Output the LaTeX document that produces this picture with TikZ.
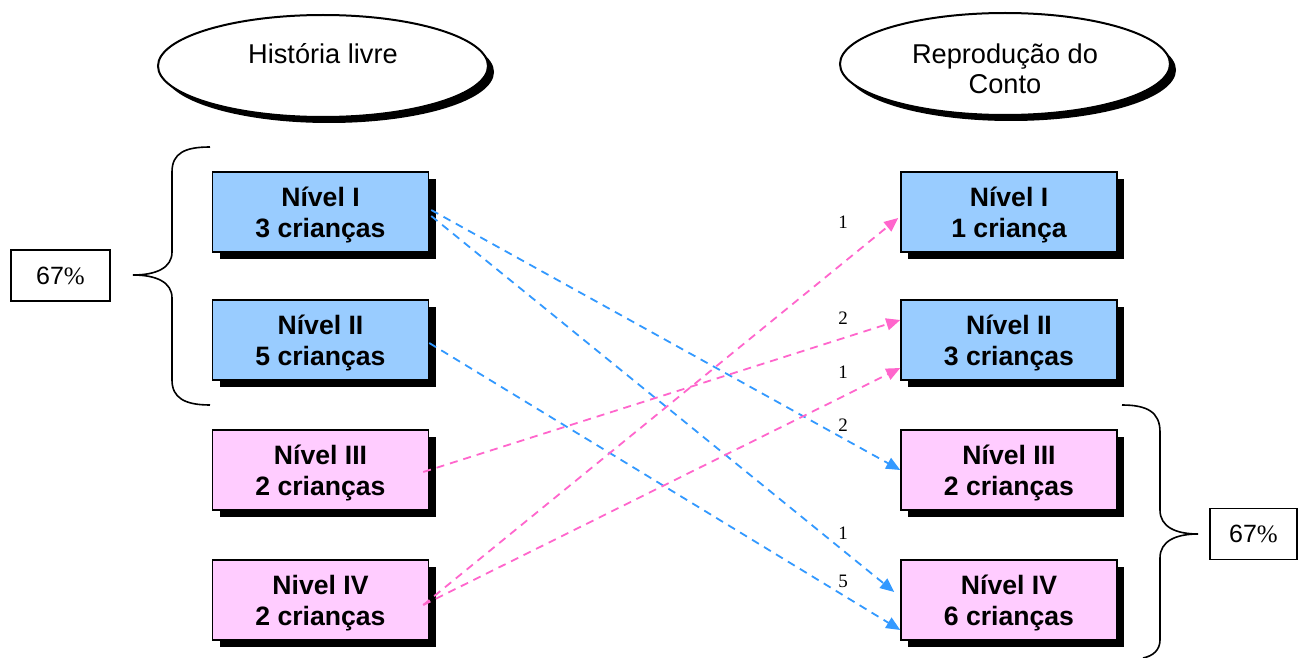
\documentclass[tikz,border=0pt]{standalone}
\usepackage{fontspec}
\setmainfont{Liberation Sans}
\newfontfamily\zahlfont{Liberation Serif}
\usetikzlibrary{arrows.meta,shapes.geometric,shadows}

\definecolor{nivelazul}{HTML}{99CCFF}
\definecolor{nivelrosa}{HTML}{FFCCFF}
\definecolor{setaazul}{HTML}{3399FF}
\definecolor{setarosa}{HTML}{FF66CC}

\tikzset{
  nivel/.style={draw=black, line width=0.75pt, minimum width=108pt, minimum height=40pt,
    inner sep=0pt, align=center, text depth=0pt,
    font=\fontsize{13.3}{15.5}\selectfont\bfseries,
    drop shadow={shadow xshift=3.5pt, shadow yshift=-3.5pt, opacity=1, fill=black}},
  azul/.style={nivel, fill=nivelazul},
  rosa/.style={nivel, fill=nivelrosa},
  oval/.style={ellipse, draw, line width=1pt, fill=white, minimum width=165pt,
    minimum height=51pt, inner sep=0pt,
    drop shadow={shadow xshift=3pt, shadow yshift=-3pt, opacity=1, fill=black}},
  titulo/.style={anchor=north, inner sep=0pt, align=center,
    font=\fontsize{13.6}{15}\selectfont},
  pct/.style={draw, line width=0.75pt, minimum height=25.5pt, inner sep=0pt,
    font=\fontsize{12.5}{15}\selectfont},
  chave/.style={line width=0.8pt},
  seta/.style={dashed, dash pattern=on 4pt off 3pt, line width=0.9pt,
    -{Triangle[length=7pt,width=6pt]}},
  num/.style={inner sep=0pt, font=\zahlfont\fontsize{9.5}{11}\selectfont}
}

\begin{document}
\begin{tikzpicture}[x=0.5pt,y=-0.5pt]

% ---------- Rahmen ----------
\useasboundingbox (0,0) rectangle (1298,658);

% ---------- Titel ----------
\node[oval] (hl) at (323,66) {};
\node[titulo] (hlt) at (323,43.5) {História livre};
\node[oval] (rc) at (1005,64) {};
\node[titulo] (rct) at (1005,43.5) {Reprodução do\\Conto};

% ---------- Niveis links ----------
\node[azul] (l1) at (320.5,212) {Nível I\\3 crianças};
\node[azul] (l2) at (320.5,340) {Nível II\\5 crianças};
\node[rosa] (l3) at (320.5,470) {Nível III\\2 crianças};
\node[rosa] (l4) at (320.5,600) {Nivel IV\\2 crianças};

% ---------- Niveis rechts ----------
\node[azul] (r1) at (1009,212) {Nível I\\1 criança};
\node[azul] (r2) at (1009,340) {Nível II\\3 crianças};
\node[rosa] (r3) at (1009,470) {Nível III\\2 crianças};
\node[rosa] (r4) at (1009,600) {Nível IV\\6 crianças};

% ---------- Klammern + Prozent ----------
\node[pct, minimum width=49.5pt] (p1) at (60.5,275.5) {67{\zahlfont\%}};
\draw[chave] (210,147) .. controls (185,147) and (172,153) .. (172,172) -- (172,252)
  .. controls (172,268) and (156,275) .. (133,275)
  .. controls (156,275) and (172,282) .. (172,298) -- (172,380)
  .. controls (172,398) and (185,405) .. (210,405);

\node[pct, minimum width=43.5pt] (p2) at (1253.5,534) {67{\zahlfont\%}};
\draw[chave] (1122,405) .. controls (1147,405) and (1160,412) .. (1160,432) -- (1160,510)
  .. controls (1160,527) and (1176,534) .. (1198,534)
  .. controls (1176,534) and (1160,541) .. (1160,558) -- (1160,640)
  .. controls (1160,650) and (1153,656) .. (1143,658);

% ---------- Pfeile ----------
\draw[seta, setaazul] ([xshift=1pt,yshift=1pt]l1.east) -- (r3.west);
\draw[seta, setaazul] ([xshift=1pt,yshift=-2pt]l1.east) -- ([xshift=-3pt,yshift=4pt]r4.west);
\draw[seta, setaazul] ([yshift=-1.5pt]l2.east) -- ([yshift=-15pt]r4.west);
\draw[seta, setarosa] ([xshift=-3pt,yshift=-1pt]l3.east) -- ([yshift=10pt]r2.west);
\draw[seta, setarosa] ([xshift=-3pt,yshift=-2.5pt]l4.east) -- ([xshift=-1pt,yshift=-3pt]r1.west);
\draw[seta, setarosa] ([xshift=-3pt,yshift=-2.5pt]l4.east) -- ([yshift=-14pt]r2.west);

% ---------- Anzahlen ----------
\node[num] (n1) at (843,222) {1};
\node[num] (n2) at (843,318) {2};
\node[num] (n3) at (843,372) {1};
\node[num] (n4) at (843,425) {2};
\node[num] (n5) at (843,533) {1};
\node[num] (n6) at (843,581) {5};

\end{tikzpicture}
\end{document}
